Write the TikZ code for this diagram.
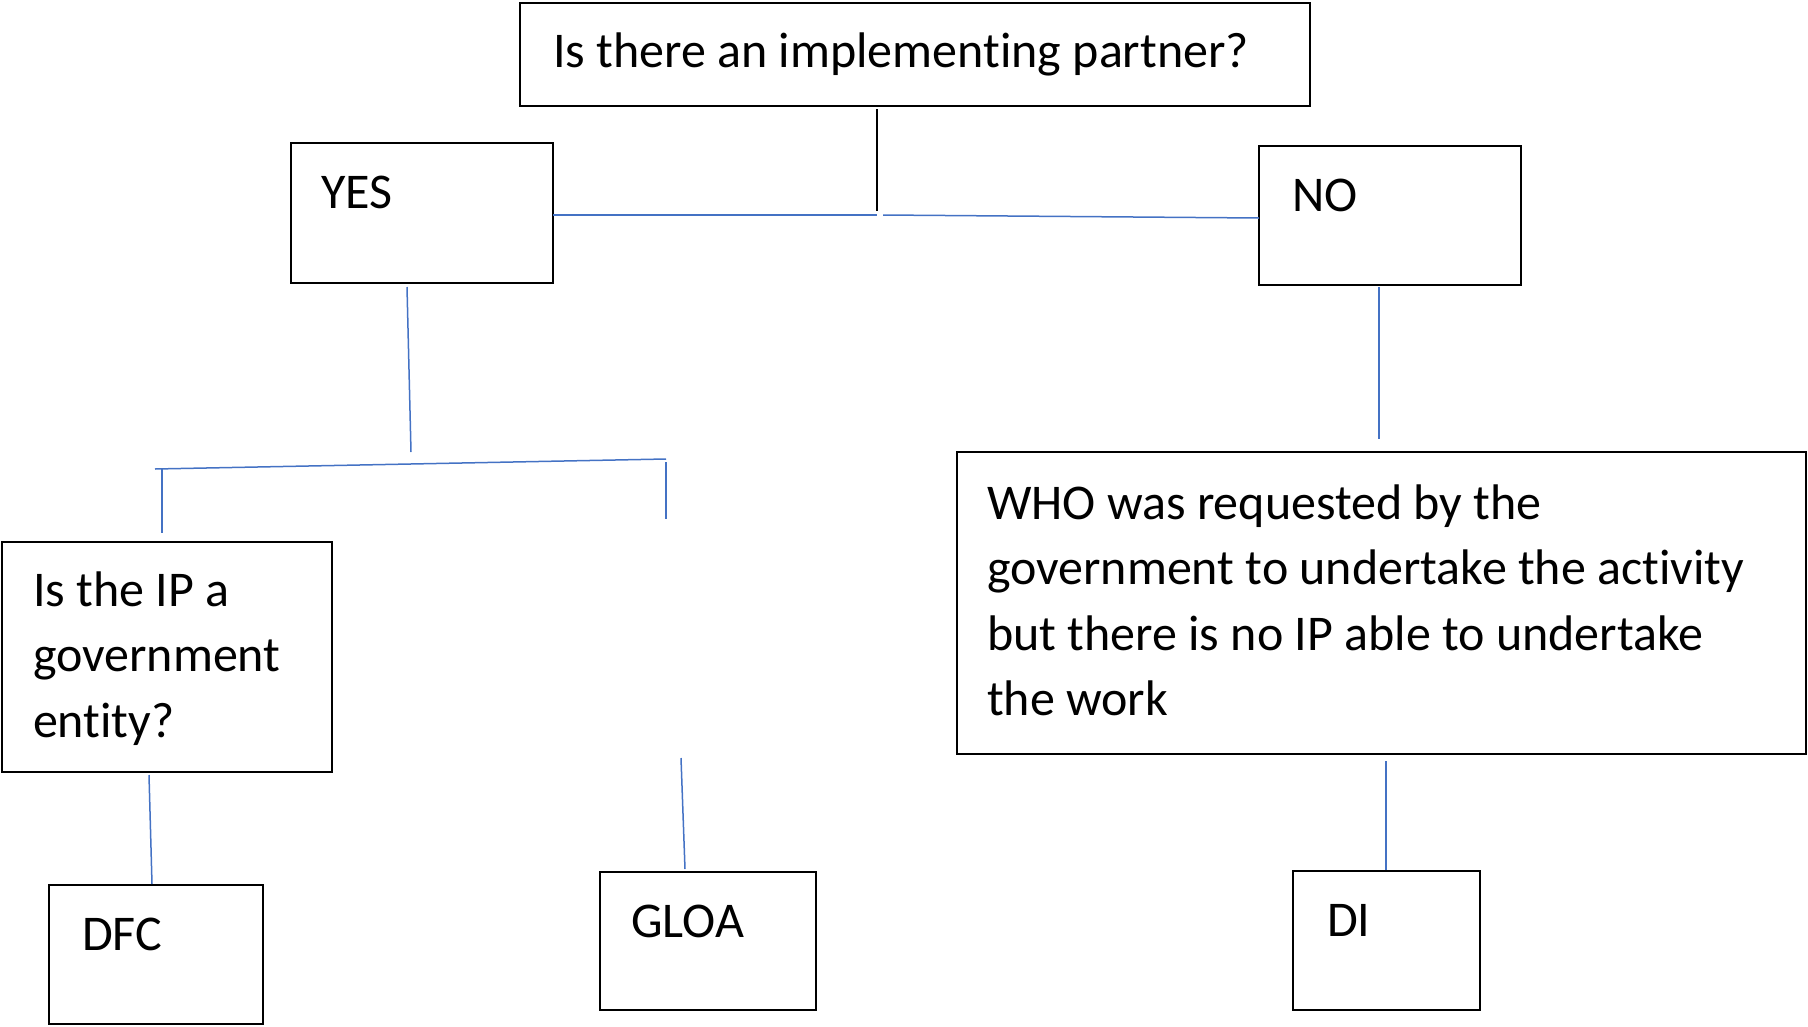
\documentclass[tikz,border=0pt]{standalone}
\usepackage{fontspec}
\setmainfont{Carlito}[Ligatures={NoCommon,NoRare,NoContextual}]
\definecolor{linkblue}{RGB}{68,114,196}
\tikzset{
  box/.style={draw=black, line width=2.7pt, rectangle, inner sep=0pt, outer sep=0pt, anchor=north west},
  txt/.style={anchor=base west, inner sep=0pt, outer sep=0pt, align=flush left, font=\fontsize{50}{65.6}\selectfont},
  bluelink/.style={draw=linkblue, line width=1.5pt},
  blacklink/.style={draw=black, line width=1.6pt}
}
\begin{document}
\begin{tikzpicture}[x=1pt,y=-1pt]
\useasboundingbox (0,0) rectangle (1808,1026);
% boxes
\node[box, minimum width=790pt, minimum height=103pt] (top) at (520,3) {};
\node[box, minimum width=262pt, minimum height=140pt] (yes) at (291,143) {};
\node[box, minimum width=262pt, minimum height=139pt] (no) at (1259,146) {};
\node[box, minimum width=849pt, minimum height=302pt] (who) at (957,452) {};
\node[box, minimum width=330pt, minimum height=230pt] (ip) at (2,542) {};
\node[box, minimum width=214pt, minimum height=139pt] (dfc) at (49,885) {};
\node[box, minimum width=216pt, minimum height=138pt] (gloa) at (600,872) {};
\node[box, minimum width=187pt, minimum height=139pt] (di) at (1293,871) {};
% texts
\node[txt] (toptxt) at (553,67) {Is there an implementing partner?};
\node[txt] (yestxt) at (321,208) {YES};
\node[txt] (notxt) at (1292,211) {NO};
\node[txt, text width=310pt] (iptxt) at (33,606) {Is the IP a\\government\\entity?};
\node[txt, text width=840pt] (whotxt) at (987,519) {WHO was requested by the\\government to undertake the activity\\but there is no IP able to undertake\\the work};
\node[txt] (dfctxt) at (82,950) {DFC};
\node[txt] (gloatxt) at (631,937) {GLOA};
\node[txt] (ditxt) at (1327,936) {DI};
% connector points
\coordinate (t1) at (877,109);
\coordinate (j0) at (877,211);
\coordinate (j1) at (877,215);
\coordinate (j2) at (883,215);
\coordinate (y1) at (407,287);
\coordinate (y2) at (411,452);
\coordinate (hl) at (155,469);
\coordinate (hr) at (666,459);
\coordinate (l1) at (162,469);
\coordinate (l2) at (162,533);
\coordinate (r1) at (666,462);
\coordinate (r2) at (666,519);
\coordinate (d1) at (149,775);
\coordinate (d2) at (152,884);
\coordinate (g1) at (681,758);
\coordinate (g2) at (685,869);
\coordinate (n1) at (1379,287);
\coordinate (n2) at (1379,439);
\coordinate (w1) at (1386,761);
\coordinate (w2) at (1386,870);
% connectors
\draw[blacklink] (t1) -- (j0);
\draw[bluelink] (yes.east |- j1) -- (j1);
\draw[bluelink] (j2) -- (no.west |- 0,218);
\draw[bluelink] (y1) -- (y2);
\draw[bluelink] (hl) -- (hr);
\draw[bluelink] (l1) -- (l2);
\draw[bluelink] (r1) -- (r2);
\draw[bluelink] (d1) -- (d2);
\draw[bluelink] (g1) -- (g2);
\draw[bluelink] (n1) -- (n2);
\draw[bluelink] (w1) -- (w2);
\end{tikzpicture}
\end{document}
